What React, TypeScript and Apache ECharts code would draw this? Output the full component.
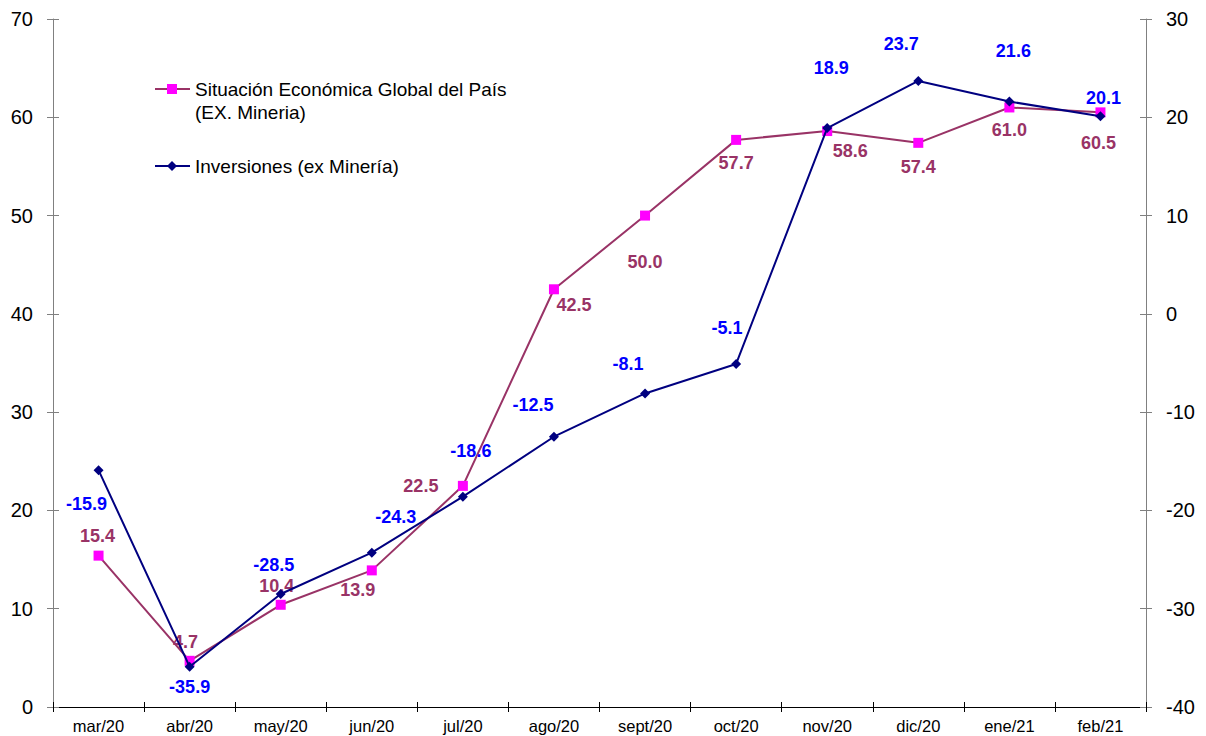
import React, { useEffect, useRef } from "react";
import * as echarts from "echarts";

const categories = ["mar/20", "abr/20", "may/20", "jun/20", "jul/20", "ago/20", "sept/20", "oct/20", "nov/20", "dic/20", "ene/21", "feb/21"];
const situacionValues = [15.4, 4.7, 10.4, 13.9, 22.5, 42.5, 50.0, 57.7, 58.6, 57.4, 61.0, 60.5];
const inversionesValues = [-15.9, -35.9, -28.5, -24.3, -18.6, -12.5, -8.1, -5.1, 18.9, 23.7, 21.6, 20.1];
const situacionName = "Situación Económica Global del País (EX. Mineria)";
const inversionesName = "Inversiones (ex Minería)";

// label offsets (layout only)
const sitOffsets = [[-1, -20], [-4, -19], [-4, -19], [-14, 20], [-42, 0], [20, 16], [0, 46], [0, 23], [23, 20], [0, 24], [0, 23], [-2, 31]];
const invOffsets = [[-12, 34], [0, 20], [-7, -29], [24, -36], [8, -46], [-21, -32], [-17, -29], [-9, -36], [4, -60], [-17, -37], [4, -51], [3, -18]];

const FONT = "Liberation Sans, Arial, sans-serif";

export default function App() {
  const ref = useRef<HTMLDivElement>(null);
  useEffect(() => {
    if (!ref.current) return;
    const chart = echarts.init(ref.current, null, { renderer: "svg" });
    const grid = { left: 53, right: 60, top: 19, bottom: 29 };
    const yCommon = {
      type: "value",
      interval: 10,
      splitLine: { show: false },
    };
    const labelCommon = {
      show: true,
      position: "inside",
      fontWeight: "bold",
      fontSize: 18,
      fontFamily: FONT,
      textBorderWidth: 0,
      formatter: (p: any) => Number(p.value).toFixed(1),
    };
    chart.setOption({
      animation: false,
      backgroundColor: "#ffffff",
      textStyle: { fontFamily: FONT },
      grid,
      xAxis: [
        {
          type: "category",
          data: categories,
          boundaryGap: true,
          axisLine: { onZero: false, lineStyle: { color: "#000", width: 1 } },
          axisTick: { show: true, length: 5, lineStyle: { color: "#000" } },
          axisLabel: { color: "#000", fontSize: 16.5, fontFamily: FONT, margin: 10 },
        },
        {
          type: "category",
          data: categories,
          position: "bottom",
          boundaryGap: true,
          axisLine: { show: false, onZero: false },
          axisTick: { show: true, inside: true, length: 5, lineStyle: { color: "#000" } },
          axisLabel: { show: false },
        },
      ],
      yAxis: [
        {
          ...yCommon,
          min: 0,
          max: 70,
          position: "left",
          axisLine: { show: true, lineStyle: { color: "#808080" } },
          axisTick: { show: true, length: 6, lineStyle: { color: "#808080" } },
          axisLabel: { color: "#000", fontSize: 20, fontFamily: FONT, margin: 20 },
        },
        {
          ...yCommon,
          min: -40,
          max: 30,
          position: "right",
          axisLine: { show: true, lineStyle: { color: "#808080" } },
          axisTick: { show: true, length: 6, lineStyle: { color: "#808080" } },
          axisLabel: { color: "#000", fontSize: 20, fontFamily: FONT, margin: 20 },
        },
        {
          ...yCommon,
          min: 0,
          max: 70,
          position: "left",
          axisLine: { show: false },
          axisTick: { show: true, inside: true, length: 6, lineStyle: { color: "#808080" } },
          axisLabel: { show: false },
        },
        {
          ...yCommon,
          min: -40,
          max: 30,
          position: "right",
          axisLine: { show: false },
          axisTick: { show: true, inside: true, length: 6, lineStyle: { color: "#808080" } },
          axisLabel: { show: false },
        },
      ],
      series: [
        {
          name: situacionName,
          type: "line",
          yAxisIndex: 0,
          data: situacionValues.map((v, i) => ({
            value: v,
            label: { offset: sitOffsets[i] },
          })),
          symbol: "rect",
          symbolSize: 10,
          itemStyle: { color: "#FF00FF" },
          lineStyle: { color: "#993366", width: 2 },
          label: { ...labelCommon, color: "#993366" },
          z: 3,
        },
        {
          name: inversionesName,
          type: "line",
          yAxisIndex: 1,
          data: inversionesValues.map((v, i) => ({
            value: v,
            label: { offset: invOffsets[i] },
          })),
          symbol: "diamond",
          symbolSize: 10,
          itemStyle: { color: "#000080" },
          lineStyle: { color: "#000080", width: 2 },
          label: { ...labelCommon, color: "#0000FF" },
          z: 4,
        },
      ],
      graphic: [
        { type: "line", shape: { x1: 155, y1: 89, x2: 190, y2: 89 }, style: { stroke: "#993366", lineWidth: 2 } },
        { type: "rect", shape: { x: 167, y: 84, width: 10, height: 10 }, style: { fill: "#FF00FF" } },
        {
          type: "text",
          x: 195,
          y: 89,
          style: {
            text: "Situación Económica Global del País",
            fill: "#000",
            font: `19px ${FONT}`,
            textVerticalAlign: "middle",
          },
        },
        {
          type: "text",
          x: 195,
          y: 112,
          style: { text: "(EX. Mineria)", fill: "#000", font: `19px ${FONT}`, textVerticalAlign: "middle" },
        },
        { type: "line", shape: { x1: 155, y1: 166, x2: 190, y2: 166 }, style: { stroke: "#000080", lineWidth: 2 } },
        {
          type: "polygon",
          shape: { points: [[172, 161], [177, 166], [172, 171], [167, 166]] },
          style: { fill: "#000080" },
        },
        {
          type: "text",
          x: 195,
          y: 166,
          style: { text: inversionesName, fill: "#000", font: `19px ${FONT}`, textVerticalAlign: "middle" },
        },
      ],
    });
    return () => chart.dispose();
  }, []);
  return (
    <div
      ref={ref}
      style={{ position: "fixed", left: 0, top: 0, width: 1206, height: 736, background: "#fff" }}
    />
  );
}
